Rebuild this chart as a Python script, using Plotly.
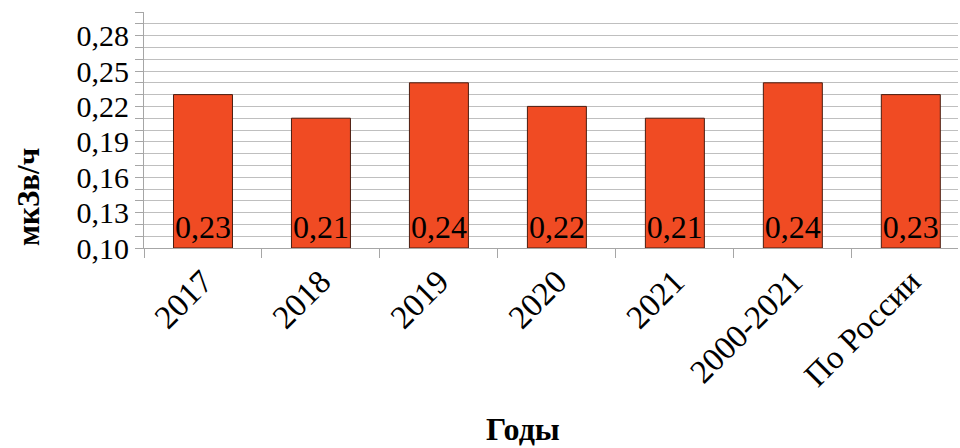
import plotly.graph_objects as go

# Average gamma dose rate by period
categories = ["2017", "2018", "2019", "2020", "2021", "2000-2021", "По России"]
values = [0.23, 0.21, 0.24, 0.22, 0.21, 0.24, 0.23]
y_ticks = [0.10, 0.13, 0.16, 0.19, 0.22, 0.25, 0.28]

serif = "'Liberation Serif', 'Times New Roman', 'DejaVu Serif', serif"
bar_fill = "#F04B23"
bar_edge = "#4a1d10"
grid = "#bfbfbf"

base = 0.10
labels = [f"{v:.2f}".replace(".", ",") for v in values]

fig = go.Figure()
fig.add_trace(go.Bar(
    x=categories,
    y=[v - base for v in values],
    base=base,
    width=0.5,
    marker=dict(color=bar_fill, line=dict(color=bar_edge, width=1)),
    text=labels,
    textposition="inside",
    insidetextanchor="start",
    textangle=0,
    constraintext="none",
    textfont=dict(family=serif, size=32, color="black"),
    hoverinfo="skip",
))

fig.update_layout(
    width=960, height=448,
    margin=dict(l=144, r=2, t=12, b=200),
    paper_bgcolor="white", plot_bgcolor="white",
    separators=", ",
    showlegend=False,
    font=dict(family=serif, color="black"),
)

fig.update_xaxes(
    range=[-0.5, 6.4],
    showgrid=False,
    showline=True, linecolor="#a6a6a6", linewidth=1,
    ticks="outside", tickson="boundaries", ticklen=9, tickcolor="#a6a6a6",
    tickangle=-45,
    tickfont=dict(family=serif, size=33, color="black"),
)

fig.update_yaxes(
    range=[0.10, 0.30],
    tickmode="array", tickvals=y_ticks, tickformat=".2f",
    tickfont=dict(family=serif, size=30, color="black"),
    showline=True, linecolor="#a6a6a6", linewidth=1,
    showgrid=True, gridcolor=grid, gridwidth=1,
    ticks="outside", ticklen=8, tickcolor="#a6a6a6",
    minor=dict(dtick=0.01, tick0=0.10, showgrid=True, gridcolor=grid,
               ticks="outside", ticklen=8, tickcolor="#a6a6a6"),
    zeroline=False,
)

fig.add_annotation(
    text="<b>мкЗв/ч</b>", textangle=-90,
    xref="paper", yref="paper", x=-0.1425, y=0.216,
    xanchor="center", yanchor="middle",
    showarrow=False, font=dict(family=serif, size=31, color="black"),
)
fig.add_annotation(
    text="<b>Годы</b>",
    xref="paper", yref="paper", x=0.4656, y=-0.768,
    xanchor="center", yanchor="middle",
    showarrow=False, font=dict(family=serif, size=32, color="black"),
)

fig.write_html("out.html")
